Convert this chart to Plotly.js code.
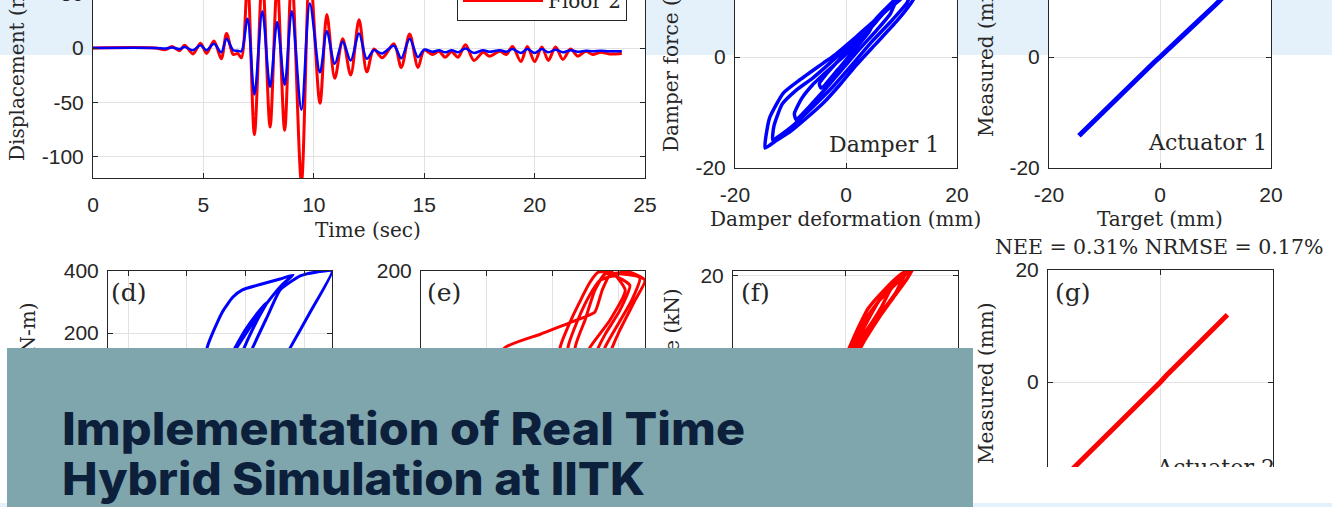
<!DOCTYPE html>
<html><head><meta charset="utf-8">
<script src="https://cdn.plot.ly/plotly-3.0.1.min.js"></script>
<style>
html,body{margin:0;padding:0;}
body{width:1332px;height:507px;overflow:hidden;position:relative;
 background:linear-gradient(to bottom,#e4f0fa 0px,#e4f0fa 55px,#ffffff 55px,#ffffff 503px,#e4f0fa 503px);}
#chart{position:absolute;left:0;top:-100px;width:1332px;height:640px;}
#whiteCut{position:absolute;left:973px;top:467px;width:359px;height:36px;background:#ffffff;}
#strip{position:absolute;left:0;top:503px;width:1332px;height:4px;background:#e4f0fa;}
#banner{position:absolute;left:7px;top:348px;width:966px;height:159px;background:#7fa5ad;}
#banner svg{display:block;}
</style></head>
<body>
<div id="chart"></div>
<div id="whiteCut"></div>
<div id="strip"></div>
<div id="banner"><svg width="966" height="159" xmlns="http://www.w3.org/2000/svg">
<text x="55" y="97" textLength="683" lengthAdjust="spacingAndGlyphs" font-family="Inter, 'Noto Sans', sans-serif" font-weight="800" font-size="45" fill="#0c203b">Implementation of Real Time</text>
<text x="55" y="147" textLength="583" lengthAdjust="spacingAndGlyphs" font-family="Inter, 'Noto Sans', sans-serif" font-weight="800" font-size="45" fill="#0c203b">Hybrid Simulation at IITK</text>
</svg></div>
<script>
// ---------- data ----------
// (a) floor displacement time histories
const timeSec = [0, 2.8, 3.29, 3.58, 3.92, 4.15, 4.53, 4.87, 5.14, 5.48, 5.81, 6.05, 6.35, 6.55, 6.72, 7.0, 7.31, 7.67, 8.02, 8.34, 8.68, 9.0, 9.44, 9.82, 10.28, 10.59, 10.95, 11.31, 11.67, 12.05, 12.4, 12.72, 13.1, 13.63, 13.96, 14.34, 14.72, 15.0, 15.38, 15.67, 15.95, 16.24, 16.53, 16.87, 17.25, 17.67, 17.95, 18.43, 18.72, 19.0, 19.38, 19.67, 20.0, 20.33, 20.62, 20.95, 21.28, 21.63, 21.95, 22.33, 22.62, 23.0, 23.38, 23.95];
const floor2Disp = [0, 0, -1.5, 1.5, -2.5, 2.5, -5.5, 4.5, -5, 6.5, -10, 13.5, -6, -5, -9, 62, -80, 66, -73, 60, -76, 68, -124, 72, -51, 31, -28, 8.5, -25, 26, -22, -1, -9, 4, -18, 13, -18, -2, -6, -3, -8.5, -3.5, -8.5, 3, -11.5, -4, -7.5, -3, -6, 1.5, -12.5, 1.5, -12.5, 1, -11.5, 1, -10.5, -1, -7.5, -3, -6, -4, -5.5, -5];
const floor1Disp = [0, 0, -0.5, 0.5, -1, 1, -2, 2.5, -2, 4, -4, 8.5, -2, -2.5, -3, 27, -43, 34, -36, 24, -34, 34, -57, 41, -22.5, 15.5, -14.5, 6, -11.5, 13.5, -10, -2, -5, 2, -9.5, 8.5, -8.5, -1.5, -3.5, -2, -4, -2, -4, -0.5, -4.5, -2, -3.5, -2, -3.5, -1, -4.5, -1, -4.5, -1, -4, -1.5, -4, -2, -3.5, -2.5, -3, -2.5, -3, -3];
const seriesNames = ['Floor 1', 'Floor 2'];
// (b) damper 1 hysteresis
const damper1Def = [13.5, 12.1, 9.1, 5.5, 1.9, -1.1, -4.1, -7.1, -10.1, -12.5, -14.6, -14.3, -13.7, -11.3, -8.3, -4.1, -2, 1.9, 6.7, 9.7, 13.5,
  12.5, 11, 8, 4.5, 1, -2.5, -6, -9.5, -12, -13.2, -13, -11.5, -9, -6, -3, 0.5, 4, 8, 12.5,
  9.5, 8, 5.5, 2.5, -0.5, -3.5, -6.5, -9, -9.3, -8, -6, -3, 0, 3, 6, 9.5,
  5.5, 4, 1.5, -1.5, -4.5, -4.8, -3.5, -1.5, 0.5, 3, 5.5];
const damper1Force = [14, 10.3, 6.4, 2.5, -1.4, -5, -8.3, -11, -13.5, -15, -16.4, -13.5, -10.8, -6.5, -4.1, -1.1, 0.4, 3.7, 7.9, 10.3, 14,
  13.2, 9.8, 6.3, 2.6, -1.5, -5.5, -9, -12.3, -14.2, -15, -12.5, -8.5, -6, -3.8, -1.2, 2, 5.3, 9, 13.2,
  11, 7.8, 4.8, 1.5, -2, -5.5, -8.8, -11.3, -10.2, -7.5, -5, -2.2, 0.5, 3.5, 7, 11,
  7, 4.3, 1.3, -2.3, -5.6, -4.8, -3, -0.8, 1.5, 4.3, 7];
// (c) actuator 1 tracking
const act1Target = [-14.6, -10, -5, -1, 0, 1, 5, 10, 12.5];
const act1Measured = [-14.2, -9.6, -4.8, -0.9, 0, 0.9, 4.7, 9.4, 11.9];
// (d) moment - rotation
const dRot = [-1.78, -1.66, -1.40, -1.22, -1.06, -0.73, -0.42, -0.20, -0.39, -0.67, -0.96, -1.23, -1.52, -1.30, -1.01, -0.79, -0.64, -0.79, -1.01, -1.17, -1.10, -0.88, -0.64, -0.42, -0.08, 0.21, 0.46, 0.11, -0.25, -0.59];
const dMoment = [-81, 152, 268, 316, 339, 358, 374, 387, 355, 290, 210, 129, 16, 113, 210, 268, 300, 248, 161, 81, 48, 155, 252, 339, 384, 397, 400, 274, 152, 32];
// (e)
const eRot = [-2.5, -1.73, -1.19, -0.63, -0.36, -0.25, -0.13, 0.17, 0.40, 0.25, 0.02, -0.10, -0.28, -0.51, -0.66, -0.51, -0.36, -0.21, 0.05, 0.32, 0.20, -0.06, -0.21, -0.36, -0.74, -0.77, -0.62, -0.44, -0.28, -0.06, 0.17, 0.02, -0.21, -0.31, -0.51, -0.89, -0.89, -0.71, -0.44, -0.31, -0.10, 0.10, -0.13, -0.44, -0.66];
const eMoment = [-60, 76, 98, 121, 134, 169, 194, 198, 185, 153, 105, 76, 24, 24, 76, 121, 169, 195, 195, 189, 153, 105, 76, 24, 32, 76, 121, 161, 185, 192, 177, 137, 97, 76, 24, 24, 76, 124, 181, 198, 198, 169, 121, 76, 24];
// (f) damper 2 hysteresis
const damper2Def = [12.2, 11, 8.5, 6, 3.5, 1, -3, -8, -12, -11, -5, 0, 2, 4, 7, 10, 12.2,
  10.5, 9, 6.5, 4, 1.5, -2, -8, -6, -1, 1, 3.5, 6, 8.5, 10.5,
  8, 6.5, 5, 3, 0.5, -4, -2, 0, 2, 4, 6, 8];
const damper2Force = [21.6, 19.5, 16, 12.5, 8.5, 4, -2, -9, -15, -11, -3, 5.5, 10, 14, 17.5, 20.3, 21.6,
  20, 17, 13.5, 10, 6, 0, -10, -6, 2, 7, 12, 15.5, 18.5, 20,
  17.5, 14.5, 12, 9, 4, -4, -1, 3, 8, 12, 15.5, 17.5];
// (g) actuator 2 tracking
const act2Target = [-16, -10, -5, -1, 0, 1, 5, 9, 11.9];
const act2Measured = [-15.9, -10, -5.2, -1.2, 0, 1.1, 5, 9.1, 12];
// tick labels
const timeTicks = [0, 5, 10, 15, 20, 25];
const timeTickText = ['0', '5', '10', '15', '20', '25'];
const dispTicks = [-100, -50, 0, 50, 100];
const dispTickText = ['-100', '-50', '0', '50', '100'];
const pm20Ticks = [-20, 0, 20];
const pm20Text = ['-20', '0', '20'];
const upperTicks = [0, 20];
const upperText = ['0', '20'];
const topTick20 = [20];
const topText20 = ['20'];
const dMomTicks = [200, 400];
const dMomText = ['200', '400'];
const eMomTicks = [200];
const eMomText = ['200'];
const rotTicks = [-3, -2, -1, 0];
const rotText = ['-3', '-2', '-1', '0'];

// ---------- layout helpers ----------
const W = 1332, H = 640, OFF = 100;
const fx = x => x / W;
const fy = y => 1 - (y + OFF) / H;
const SERIF = 'DejaVu Serif, serif';
const SANS = 'Liberation Sans, Arial, sans-serif';
const INK = '#262626';

function axis(x0, x1, range, tv, tt, anchor, horizontal, extra) {
  const o = {
    range: range, tickmode: 'array', tickvals: tv, ticktext: tt, anchor: anchor,
    ticks: 'inside', ticklen: 5, tickwidth: 1, tickcolor: INK,
    showline: true, linecolor: INK, linewidth: 1, mirror: 'ticks',
    showgrid: true, gridcolor: '#e2e2e2', gridwidth: 1, zeroline: false,
    tickfont: {family: SANS, size: 21, color: INK},
    ticklabelstandoff: horizontal ? 8 : 4,
    fixedrange: true
  };
  o.domain = horizontal ? [fx(x0), fx(x1)] : [fy(x1), fy(x0)];
  return Object.assign(o, extra || {});
}
const hidden = {showticklabels: false};

const layout = {
  width: W, height: H,
  margin: {l: 0, r: 0, t: 0, b: 0, pad: 0},
  paper_bgcolor: 'rgba(0,0,0,0)', plot_bgcolor: '#ffffff',
  showlegend: true,
  legend: {x: fx(627), y: fy(21), xanchor: 'right', yanchor: 'bottom',
    bgcolor: '#ffffff', bordercolor: INK, borderwidth: 1,
    font: {family: SERIF, size: 20, color: INK}, itemwidth: 80, traceorder: 'reversed'},
  xaxis:  axis(93, 645, [0, 25], timeTicks, timeTickText, 'y', true),
  yaxis:  axis(-82, 178, [-120, 120], dispTicks, dispTickText, 'x', false),
  xaxis2: axis(735, 957, [-20, 20], pm20Ticks, pm20Text, 'y2', true),
  yaxis2: axis(-54, 168, [-20, 20], pm20Ticks, pm20Text, 'x2', false),
  xaxis3: axis(1049, 1271, [-20, 20], pm20Ticks, pm20Text, 'y3', true),
  yaxis3: axis(-54, 168, [-20, 20], pm20Ticks, pm20Text, 'x3', false),
  xaxis4: axis(108, 332, [-3.34, 0.46], rotTicks, rotText, 'y4', true, hidden),
  yaxis4: axis(271, 519, [-400, 400], dMomTicks, dMomText, 'x4', false),
  xaxis5: axis(421, 645, [-3, 0.4], rotTicks, rotText, 'y5', true, hidden),
  yaxis5: axis(271, 519, [-200, 200], eMomTicks, eMomText, 'x5', false),
  xaxis6: axis(733, 958, [-20, 20], pm20Ticks, pm20Text, 'y6', true, hidden),
  yaxis6: axis(271, 498, [-20, 20.8], topTick20, topText20, 'x6', false),
  xaxis7: axis(1048, 1273, [-20, 20], pm20Ticks, pm20Text, 'y7', true, hidden),
  yaxis7: axis(270, 494, [-20, 20], upperTicks, upperText, 'x7', false),
  annotations: []
};

function ann(text, x, y, size, extra) {
  layout.annotations.push(Object.assign({
    text: text, xref: 'paper', yref: 'paper', x: fx(x), y: fy(y),
    xanchor: 'center', yanchor: 'middle', showarrow: false,
    font: {family: SERIF, size: size, color: INK}
  }, extra || {}));
}
ann('Time (sec)', 368, 230, 20);
ann('Displacement (mm)', 17, 62, 20, {textangle: -90});
ann('Damper deformation (mm)', 846, 219, 20);
ann('Damper force (kN)', 671, 57, 20, {textangle: -90});
ann('Target (mm)', 1160, 219, 20);
ann('Measured (mm)', 986, 57, 20, {textangle: -90});
ann('Damper 1', 884, 144, 22);
ann('Actuator 1', 1207, 143, 22);
ann('NEE = 0.31% NRMSE = 0.17%', 1159, 247, 20.5, {borderpad: 0});
ann('(d)', 129, 292, 25);
ann('(e)', 444, 292, 25);
ann('(f)', 755, 292, 25);
ann('(g)', 1073, 292, 25);
ann('Moment (kN-m)', 28, 300, 20, {textangle: -90, yanchor: 'top'});
ann('Damper force (kN)', 671, 287, 20, {textangle: -90, yanchor: 'top'});
ann('Measured (mm)', 986, 384, 20, {textangle: -90});
ann('Actuator 2', 1215, 467, 22);

const RED = '#ff0000', BLUE = '#0000ff';
const traces = [
  {x: timeSec, y: floor2Disp, name: seriesNames[1], xaxis: 'x', yaxis: 'y', mode: 'lines',
   line: {color: RED, width: 3, shape: 'spline', smoothing: 0.9}},
  {x: timeSec, y: floor1Disp, name: seriesNames[0], xaxis: 'x', yaxis: 'y', mode: 'lines',
   line: {color: BLUE, width: 2.5, shape: 'spline', smoothing: 0.9}},
  {x: damper1Def, y: damper1Force, xaxis: 'x2', yaxis: 'y2', mode: 'lines', showlegend: false,
   line: {color: BLUE, width: 3.5, shape: 'spline', smoothing: 0.5}},
  {x: act1Target, y: act1Measured, xaxis: 'x3', yaxis: 'y3', mode: 'lines', showlegend: false,
   line: {color: BLUE, width: 5}},
  {x: dRot, y: dMoment, xaxis: 'x4', yaxis: 'y4', mode: 'lines', showlegend: false,
   line: {color: BLUE, width: 3, shape: 'spline', smoothing: 0.5}},
  {x: eRot, y: eMoment, xaxis: 'x5', yaxis: 'y5', mode: 'lines', showlegend: false,
   line: {color: RED, width: 3, shape: 'spline', smoothing: 0.5}},
  {x: damper2Def, y: damper2Force, xaxis: 'x6', yaxis: 'y6', mode: 'lines', showlegend: false,
   line: {color: RED, width: 3.5, shape: 'spline', smoothing: 0.5}},
  {x: act2Target, y: act2Measured, xaxis: 'x7', yaxis: 'y7', mode: 'lines', showlegend: false,
   line: {color: RED, width: 5}}
];

Plotly.newPlot('chart', traces, layout, {staticPlot: true, displayModeBar: false});
</script>
</body></html>
